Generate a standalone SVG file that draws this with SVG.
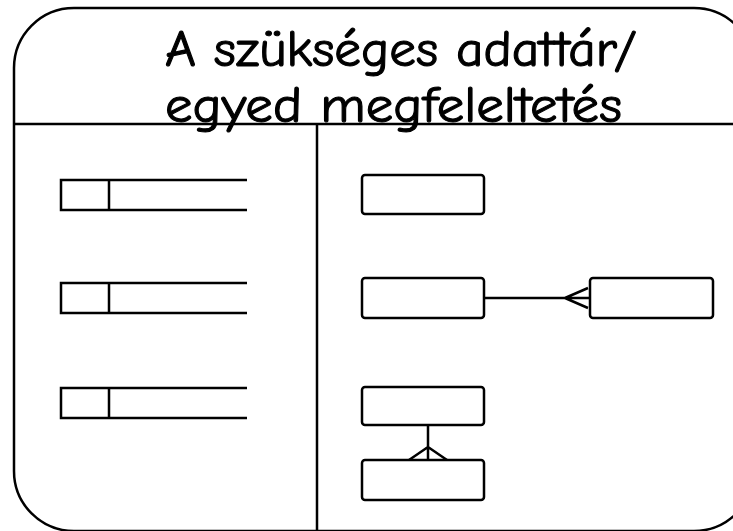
<svg xmlns="http://www.w3.org/2000/svg" width="733" height="531" viewBox="0 0 733 531">
<style>
.ln{fill:none;stroke:#000;stroke-width:2.5;stroke-linecap:butt}
.ent{fill:#fff;stroke:#000;stroke-width:2.5}
.title{font-family:"Comic Sans MS","Comic Neue","DejaVu Sans",sans-serif;font-size:51px;fill:#000;stroke:#000;stroke-width:1.1}
</style>
<rect width="733" height="531" fill="#fff"/>
<g id="frame">
<rect class="ln" x="14" y="8" width="740" height="523" rx="60" ry="60"/>
<line class="ln" x1="14" y1="124" x2="733" y2="124"/>
<line class="ln" x1="317" y1="124" x2="317" y2="531"/>
</g>
<g id="title">
<text class="title" x="165" y="66" textLength="472" lengthAdjust="spacingAndGlyphs">A szükséges adattár/</text>
<text class="title" x="165" y="122" textLength="457" lengthAdjust="spacingAndGlyphs">egyed megfeleltetés</text>
</g>
<g id="store1">
<path class="ln" d="M247,180 H61 V210 H247 M109,180 V210"/>
</g>
<g id="store2">
<path class="ln" d="M247,283 H61 V313 H247 M109,283 V313"/>
</g>
<g id="store3">
<path class="ln" d="M247,388 H61 V418 H247 M109,388 V418"/>
</g>
<g id="entity1"><rect class="ent" x="362" y="175" width="122" height="39" rx="3"/></g>
<g id="entity2"><rect class="ent" x="362" y="278" width="122" height="40" rx="3"/></g>
<g id="entity3"><rect class="ent" x="590" y="278" width="123" height="40" rx="3"/></g>
<g id="entity4"><rect class="ent" x="362" y="387" width="122" height="38" rx="3"/></g>
<g id="entity5"><rect class="ent" x="362" y="460" width="122" height="40" rx="3"/></g>
<g id="connectors">
<path class="ln" d="M484,298 H590 M565,298 L588,288 M565,298 L588,308"/>
<path class="ln" d="M428,425 V460 M428,447 L409,460 M428,447 L447,460"/>
</g>
</svg>
